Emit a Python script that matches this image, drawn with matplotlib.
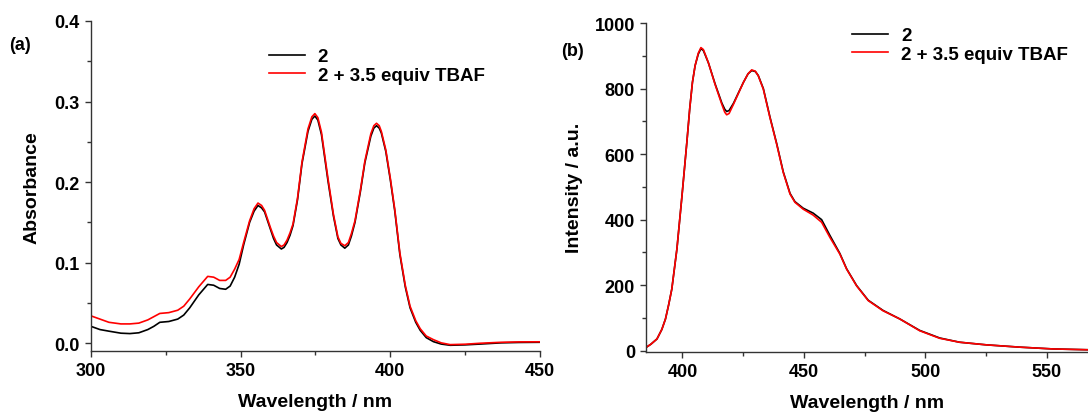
import numpy as np
import matplotlib
matplotlib.use("Agg")
import matplotlib.pyplot as plt
from matplotlib.ticker import MultipleLocator, FormatStrFormatter

plt.rcParams['font.family'] = ['Liberation Sans', 'DejaVu Sans']
plt.rcParams['font.weight'] = 'bold'

# -----------------------------
# (a) absorbance data
# -----------------------------
wl_abs = [300, 303, 306, 310, 313, 316, 319, 321, 323, 326, 329, 331, 333, 336, 339,
          341, 343, 345, 346.5, 348, 349.5, 351, 353, 354.5, 355.8, 357, 358, 360, 361,
          362, 363.6, 364.5, 365.5, 366.5, 367.5, 369, 370.5, 372.5, 373.8, 374.8,
          375.8, 377, 379.2, 381, 382.5, 383.5, 384.8, 386, 387, 388.2, 390, 391.5,
          393.5, 394.5, 395.4, 396.3, 397, 398.5, 400, 401.5, 403.2, 405, 406.6,
          408.5, 410, 412, 414.4, 417, 420, 425, 430, 437, 443, 450]

abs_2 = [0.021, 0.017, 0.015, 0.0125, 0.012, 0.013, 0.017, 0.021, 0.026, 0.027, 0.030,
         0.035, 0.044, 0.060, 0.073, 0.072, 0.068, 0.067, 0.071, 0.082, 0.098, 0.122,
         0.150, 0.164, 0.171, 0.168, 0.163, 0.141, 0.130, 0.122, 0.117, 0.119, 0.125,
         0.134, 0.146, 0.178, 0.223, 0.263, 0.278, 0.282, 0.277, 0.259, 0.201, 0.158,
         0.130, 0.122, 0.118, 0.122, 0.133, 0.150, 0.188, 0.224, 0.257, 0.267, 0.270,
         0.267, 0.261, 0.238, 0.203, 0.164, 0.110, 0.070, 0.044, 0.026, 0.016, 0.007,
         0.002, -0.001, -0.0025, -0.002, -0.001, 0.0005, 0.001, 0.0012]

abs_2_tbaf = [0.034, 0.030, 0.026, 0.024, 0.024, 0.025, 0.029, 0.033, 0.037, 0.038, 0.041,
              0.046, 0.055, 0.070, 0.083, 0.082, 0.078, 0.078, 0.082, 0.092, 0.104, 0.125,
              0.152, 0.167, 0.174, 0.171, 0.165, 0.143, 0.133, 0.125, 0.120, 0.122, 0.128,
              0.137, 0.148, 0.180, 0.225, 0.266, 0.281, 0.285, 0.280, 0.262, 0.204, 0.160,
              0.132, 0.124, 0.121, 0.125, 0.136, 0.152, 0.190, 0.226, 0.260, 0.270, 0.273,
              0.270, 0.263, 0.240, 0.205, 0.166, 0.112, 0.072, 0.046, 0.028, 0.018, 0.009,
              0.0045, 0.0005, -0.0017, -0.0012, 0.0, 0.0012, 0.0017, 0.0018]

# -----------------------------
# (b) emission data
# -----------------------------
wl_em = [385, 387, 389.5, 391.5, 393, 394.3, 395.6, 397.7, 399.8, 401.8, 403, 404.1,
         405.2, 406.5, 407.6, 408.6, 409.6, 410.7, 413.4, 416.2, 417.4, 418.2, 419.2,
         421, 425.1, 427, 428.5, 430, 431.2, 433.3, 436, 438.8, 441.5, 444.3, 446.3,
         449.7, 453.8, 457.3, 460.7, 464.8, 467.6, 471.7, 476.5, 482.6, 489.5, 497.7,
         505.9, 514.1, 525.1, 538.8, 552.5, 567]

em_2 = [10, 20, 36, 65, 97, 140, 188, 310, 473, 636, 740, 819, 870, 905, 922, 916, 898,
        878, 815, 756, 737, 730, 733, 755, 819, 845, 855, 852, 840, 800, 714, 632, 546,
        480, 455, 435, 420, 400, 352, 297, 250, 199, 154, 123, 97, 62, 39, 26, 18, 11,
        5.5, 3]

em_2_tbaf = [10, 20, 36, 65, 97, 140, 188, 310, 473, 636, 740, 819, 870, 908, 925, 919,
             900, 878, 813, 752, 728, 720, 724, 752, 819, 845, 857, 853, 839, 798, 712,
             630, 544, 478, 453, 432, 414, 392, 346, 295, 249, 198, 153, 122, 97, 61, 38,
             26, 18, 11, 5.5, 3]

labels = ["2", "2 + 3.5 equiv TBAF"]

fig = plt.figure(figsize=(10.88, 4.14), dpi=100)
ax1 = fig.add_axes([0.0836, 0.149, 0.4127, 0.798])
ax2 = fig.add_axes([0.5938, 0.148, 0.4062, 0.794])

lw = 1.2
ax1.plot(wl_abs, abs_2, color="black", lw=lw, label=labels[0])
ax1.plot(wl_abs, abs_2_tbaf, color="red", lw=lw, label=labels[1])
ax2.plot(wl_em, em_2, color="black", lw=lw, label=labels[0])
ax2.plot(wl_em, em_2_tbaf, color="red", lw=lw, label=labels[1])

ax1.set_xlim(300, 450)
ax1.set_ylim(-0.01, 0.4)
ax1.xaxis.set_major_locator(MultipleLocator(50))
ax1.xaxis.set_minor_locator(MultipleLocator(25))
ax1.yaxis.set_major_locator(MultipleLocator(0.1))
ax1.yaxis.set_minor_locator(MultipleLocator(0.05))
ax1.yaxis.set_major_formatter(FormatStrFormatter("%.1f"))

ax2.set_xlim(385, 567)
ax2.set_ylim(-3, 1000)
ax2.xaxis.set_major_locator(MultipleLocator(50))
ax2.xaxis.set_minor_locator(MultipleLocator(25))
ax2.yaxis.set_major_locator(MultipleLocator(200))
ax2.yaxis.set_minor_locator(MultipleLocator(100))

for ax in (ax1, ax2):
    ax.spines["top"].set_visible(False)
    ax.spines["right"].set_visible(False)
    for side in ("left", "bottom"):
        ax.spines[side].set_color("#333333")
        ax.spines[side].set_linewidth(1.0)
    ax.tick_params(which="major", direction="out", length=4.5, width=1.0,
                   labelsize=13, color="#333333")
    ax.tick_params(which="minor", direction="out", length=3, width=1.0, color="#333333")
    for t in ax.get_xticklabels() + ax.get_yticklabels():
        t.set_fontweight("bold")
    ax.set_xlabel("Wavelength / nm", fontsize=14, fontweight="bold", labelpad=10)

ax1.set_ylabel("Absorbance", fontsize=14, fontweight="bold", labelpad=10)
ax2.set_ylabel("Intensity / a.u.", fontsize=14, fontweight="bold", labelpad=8)

ax1.legend(loc="upper left", bbox_to_anchor=(0.38, 0.94), frameon=False,
           prop={"size": 13.5, "weight": "bold"}, handlelength=1.9,
           handletextpad=0.7, labelspacing=0.08, borderaxespad=0)
ax2.legend(loc="upper left", bbox_to_anchor=(0.45, 1.01), frameon=False,
           prop={"size": 13.5, "weight": "bold"}, handlelength=1.9,
           handletextpad=0.7, labelspacing=0.08, borderaxespad=0)

fig.text(20 / 1088, 1 - 45 / 414, "(a)", fontsize=13, fontweight="bold",
         ha="center", va="center")
fig.text(572 / 1088, 1 - 52 / 414, "(b)", fontsize=13, fontweight="bold",
         ha="center", va="center")

fig.savefig("out.png", dpi=100)
